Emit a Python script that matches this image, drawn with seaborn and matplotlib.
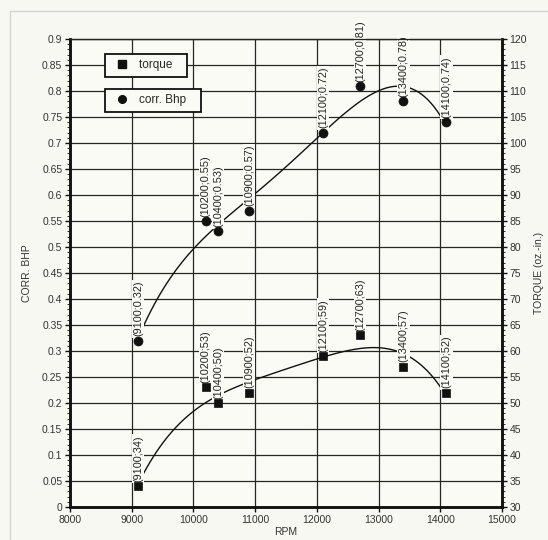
import matplotlib
matplotlib.use("Agg")
import matplotlib.pyplot as plt
from matplotlib.lines import Line2D
from matplotlib.ticker import MultipleLocator, FuncFormatter
import pandas as pd
import seaborn as sns

# Engine dyno readings
rpm = [9100, 10200, 10400, 10900, 12100, 12700, 13400, 14100]
corr_bhp = [0.32, 0.55, 0.53, 0.57, 0.72, 0.81, 0.78, 0.74]
torque = [34, 53, 50, 52, 59, 63, 57, 52]

df = pd.DataFrame({"RPM": rpm, "bhp": corr_bhp, "torque": torque})

sns.set_theme(style="ticks")
plt.rcParams["font.family"] = ["Liberation Sans", "DejaVu Sans"]

ink = "#111111"
paper = "#f8f8f3"
plot_bg = "#fbfbf5"

fig = plt.figure(figsize=(5.48, 5.40), dpi=100, facecolor=paper)
# page frame: only its top and left edges fall inside the image
for xs, ys in (([10 / 548, 1.0], [1 - 11 / 540] * 2), ([10 / 548] * 2, [0.0, 1 - 11 / 540])):
    fig.lines.append(Line2D(xs, ys, transform=fig.transFigure, color="#d4d4d0", lw=1.0))

ax = fig.add_axes([70 / 548, 1 - 507 / 540, 432 / 548, 468 / 540])
ax.set_facecolor(plot_bg)
ax2 = ax.twinx()

# trend curves (polynomial fits) and measured points
sns.regplot(data=df, x="RPM", y="bhp", order=4, ci=None, scatter=False, ax=ax,
            line_kws=dict(color=ink, lw=1.0, zorder=3))
sns.scatterplot(data=df, x="RPM", y="bhp", marker="o", s=42, color=ink,
                edgecolor=ink, linewidth=0.5, ax=ax, zorder=6, legend=False)
sns.regplot(data=df, x="RPM", y="torque", order=4, ci=None, scatter=False, ax=ax2,
            line_kws=dict(color=ink, lw=1.0, zorder=3))
sns.scatterplot(data=df, x="RPM", y="torque", marker="s", s=38, color=ink,
                edgecolor=ink, linewidth=0.5, ax=ax2, zorder=6, legend=False)

label_box = dict(boxstyle="square,pad=0.12", fc=plot_bg, ec="none")
for x, y in zip(rpm, corr_bhp):
    ax.annotate(f"({x};{y:.2f})", (x, y), xytext=(0, 3), textcoords="offset points",
                rotation=90, ha="center", va="bottom", fontsize=7.8, color="#222222",
                bbox=label_box, zorder=5)
for x, y in zip(rpm, torque):
    ax2.annotate(f"({x};{y})", (x, y), xytext=(0, 3), textcoords="offset points",
                 rotation=90, ha="center", va="bottom", fontsize=7.8, color="#222222",
                 bbox=label_box, zorder=5)

# axes ranges and ticks
ax.set_xlim(8000, 15000)
ax.set_ylim(0, 0.9)
ax2.set_ylim(30, 120)
ax.xaxis.set_major_locator(MultipleLocator(1000))
ax.yaxis.set_major_locator(MultipleLocator(0.05))
ax.yaxis.set_minor_locator(MultipleLocator(0.01))
ax2.yaxis.set_major_locator(MultipleLocator(5))
ax2.yaxis.set_minor_locator(MultipleLocator(1))
ax.yaxis.set_major_formatter(FuncFormatter(lambda v, p: f"{v:.2f}".rstrip("0").rstrip(".") if v else "0"))
ax2.yaxis.set_major_formatter(FuncFormatter(lambda v, p: f"{v:g}"))

ax.grid(True, which="major", color="#262626", lw=0.9)
ax2.grid(False)

for a in (ax, ax2):
    a.tick_params(axis="both", which="major", length=3.5, width=1.0, color=ink,
                  labelsize=7.5, labelcolor="#333333", pad=2)
    a.tick_params(axis="y", which="minor", length=2, width=0.6, color=ink)
    for side in ("left", "right", "bottom"):
        a.spines[side].set_linewidth(1.8)
        a.spines[side].set_color(ink)
    a.spines["top"].set_linewidth(0.9)
    a.spines["top"].set_color("#262626")

ax.set_xlabel("RPM", fontsize=7.5, color="#333333", labelpad=2)
ax.set_ylabel("CORR. BHP", fontsize=7.5, color="#333333", labelpad=7)
ax2.set_ylabel("TORQUE (oz.-in.)", fontsize=7.5, color="#333333", labelpad=5)

# separate boxed legends for each series
leg_kw = dict(loc="upper left", frameon=True, fancybox=False, framealpha=1,
              facecolor=plot_bg, edgecolor=ink, fontsize=8.5, handlelength=2.0,
              handletextpad=0.4, borderpad=0.45, borderaxespad=0)
leg1 = ax.legend(handles=[Line2D([], [], marker="s", ls="", color=ink, markersize=5.5)],
                 labels=["torque   "], bbox_to_anchor=(0.081, 0.968), **leg_kw)
leg1.get_frame().set_linewidth(1.3)
leg1.set_zorder(7)
ax.add_artist(leg1)
leg2 = ax.legend(handles=[Line2D([], [], marker="o", ls="", color=ink, markersize=5.5)],
                 labels=["corr. Bhp   "], bbox_to_anchor=(0.081, 0.893), **leg_kw)
leg2.get_frame().set_linewidth(1.3)
leg2.set_zorder(7)

fig.savefig("out.png", dpi=100, facecolor=paper)
